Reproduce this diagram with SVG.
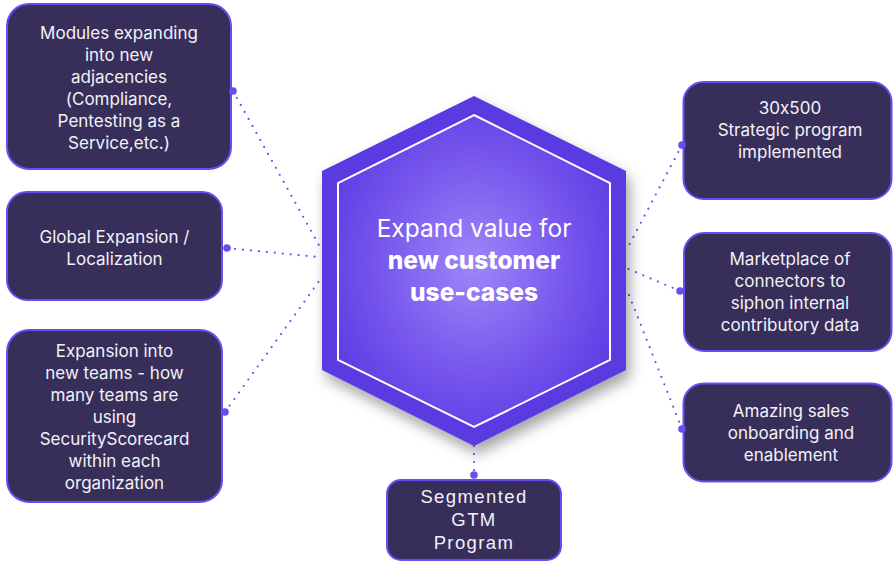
<svg xmlns="http://www.w3.org/2000/svg" width="893" height="562" viewBox="0 0 893 562">
<defs>
<style>
.box{fill:#372f59;stroke:#6a4cf4;stroke-width:2}
.t{font-family:Inter,"Liberation Sans",sans-serif;font-size:17px;fill:#f3f1f8;text-anchor:middle;font-feature-settings:"calt" 0}
.tm{font-family:"Liberation Sans",Arial,sans-serif;font-size:18.5px;letter-spacing:1.4px;fill:#f3f1f8;text-anchor:middle}
.c{fill:none;stroke:#6a4cf4;stroke-width:2.2;stroke-linecap:round;stroke-dasharray:0 8}
.d{fill:#6a4cf4}
.h{font-family:Inter,"Liberation Sans",sans-serif;font-size:24.5px;fill:#ffffff;text-anchor:middle}
</style>
<radialGradient id="hg" cx="0.5" cy="0.48" r="0.6">
<stop offset="0" stop-color="#9e86f8"/>
<stop offset="0.6" stop-color="#7555ec"/>
<stop offset="1" stop-color="#5c3ae4"/>
</radialGradient>
<filter id="sh" x="-20%" y="-20%" width="150%" height="150%">
<feDropShadow dx="4" dy="8" stdDeviation="7" flood-color="#000" flood-opacity="0.35"/>
</filter>
</defs>
<g id="connectors">
<path class="c" d="M233 91 L320 247"/>
<path class="c" d="M227 248 L318 257"/>
<path class="c" d="M225 412 L322 277"/>
<path class="c" d="M682 145 L628 247"/>
<path class="c" d="M680 291 L626 268"/>
<path class="c" d="M682 429 L627 290"/>
<path class="c" d="M474 446 L474 475"/>
</g>
<g id="hexagon">
<polygon points="474,96 626,171 626,370 474,446 322,370 322,171" fill="#5a3ae2" filter="url(#sh)"/>
<polygon points="474,115 610,183 610,360 474,427 338,360 338,183" fill="url(#hg)" stroke="#ffffff" stroke-width="2"/>
<text class="h" x="474" y="237">Expand value for</text>
<text class="h" x="474" y="269" font-weight="800">new customer</text>
<text class="h" x="474" y="301" font-weight="800">use-cases</text>
</g>
<g id="n1">
<rect class="box" x="7" y="4" width="224" height="165" rx="22"/>
<text class="t"><tspan x="119" y="39">Modules expanding</tspan><tspan x="119" y="61">into new</tspan><tspan x="119" y="83">adjacencies</tspan><tspan x="119" y="105">(Compliance,</tspan><tspan x="119" y="127">Pentesting as a</tspan><tspan x="119" y="149">Service,etc.)</tspan></text>
<circle class="d" cx="233" cy="91" r="3.8"/>
</g>
<g id="n2">
<rect class="box" x="7" y="192" width="215" height="108" rx="20"/>
<text class="t"><tspan x="114.5" y="243">Global Expansion /</tspan><tspan x="114.5" y="265">Localization</tspan></text>
<circle class="d" cx="227" cy="248" r="3.8"/>
</g>
<g id="n3">
<rect class="box" x="7" y="330" width="215" height="172" rx="22"/>
<text class="t"><tspan x="114.5" y="357">Expansion into</tspan><tspan x="114.5" y="379">new teams - how</tspan><tspan x="114.5" y="401">many teams are</tspan><tspan x="114.5" y="423">using</tspan><tspan x="114.5" y="445">SecurityScorecard</tspan><tspan x="114.5" y="467">within each</tspan><tspan x="114.5" y="489">organization</tspan></text>
<circle class="d" cx="225" cy="412" r="3.8"/>
</g>
<g id="n4">
<rect class="box" x="683.5" y="82" width="208" height="117" rx="20"/>
<text class="t"><tspan x="790" y="114">30x500</tspan><tspan x="790" y="136">Strategic program</tspan><tspan x="790" y="158">implemented</tspan></text>
<circle class="d" cx="682" cy="145" r="3.8"/>
</g>
<g id="n5">
<rect class="box" x="684" y="233" width="207.5" height="118" rx="20"/>
<text class="t"><tspan x="790" y="265">Marketplace of</tspan><tspan x="790" y="287">connectors to</tspan><tspan x="790" y="309">siphon internal</tspan><tspan x="790" y="331">contributory data</tspan></text>
<circle class="d" cx="680" cy="291" r="3.8"/>
</g>
<g id="n6">
<rect class="box" x="683.5" y="383.5" width="208" height="98" rx="20"/>
<text class="t"><tspan x="791" y="417">Amazing sales</tspan><tspan x="791" y="439">onboarding and</tspan><tspan x="791" y="461">enablement</tspan></text>
<circle class="d" cx="682" cy="429" r="3.8"/>
</g>
<g id="n7">
<rect class="box" x="387" y="480" width="174" height="80" rx="14"/>
<text class="tm"><tspan x="474" y="503">Segmented</tspan><tspan x="474" y="526">GTM</tspan><tspan x="474" y="549">Program</tspan></text>
<circle class="d" cx="474" cy="475" r="3.8"/>
</g>
</svg>
